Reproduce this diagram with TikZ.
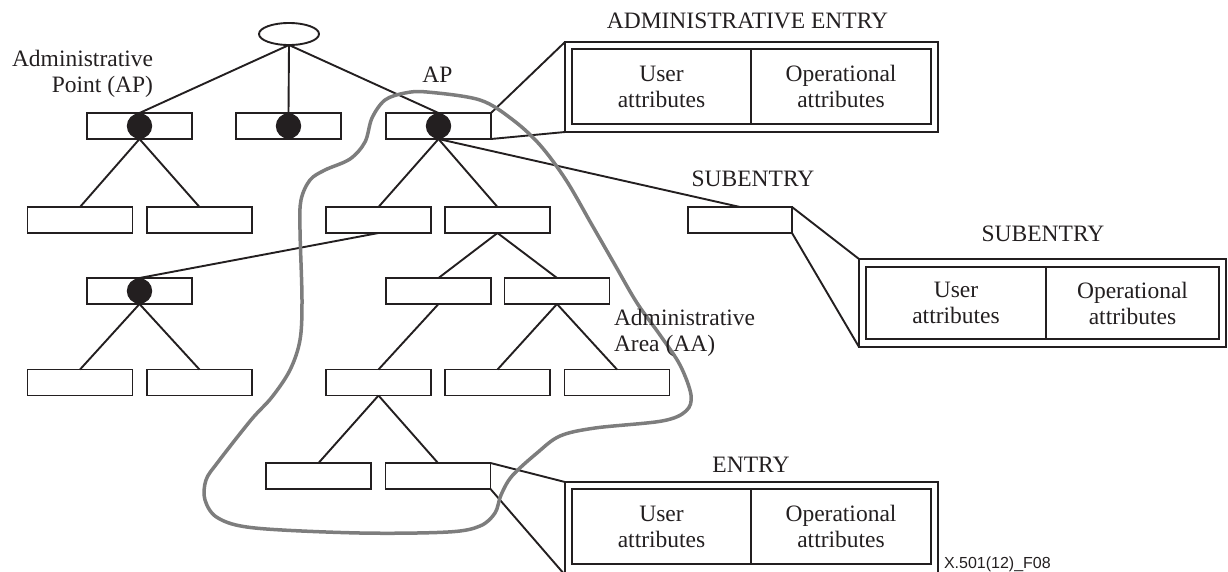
\documentclass[tikz,border=0pt]{standalone}
\usepackage{fontspec}
\setmainfont{Liberation Serif}
\newfontfamily\figsans{Liberation Sans}
\usetikzlibrary{shapes.geometric}
\definecolor{ink}{RGB}{35,31,32}
\definecolor{areagray}{RGB}{125,125,125}

\begin{document}
\begin{tikzpicture}[x=1pt,y=-1pt,
  every node/.style={inner sep=0pt, outer sep=0pt},
  conn/.style={draw=ink, line width=1.9pt},
  entrybox/.style={draw=ink, line width=1.9pt, fill=white, rectangle,
    minimum width=105pt, minimum height=26pt},
  subbox/.style={entrybox, minimum width=104pt},
  apdot/.style={circle, fill=ink, minimum size=25.4pt},
  lbl/.style={font=\fontsize{23.5}{26}\selectfont, text=ink},
  frame/.style={draw=ink, line width=1.9pt, rectangle},
  cell/.style={frame, lbl, align=center},
  area/.style={draw=areagray, line width=3.5pt}
]
\useasboundingbox (0,0) rectangle (1228,571);

% root of the DIT
\node[draw=ink, line width=1.9pt, ellipse, minimum width=60pt, minimum height=22pt] (root) at (289,34) {};

% first level: administrative points
\node[entrybox] (apA) at (139.5,126) {};
\node[entrybox] (apB) at (288.5,126) {};
\node[entrybox] (apC) at (438.5,126) {};
\node[apdot] (dA) at (apA) {};
\node[apdot] (dB) at (apB) {};
\node[apdot] (dC) at (apC) {};

% second level
\node[entrybox] (r2a) at (80,220) {};
\node[entrybox] (r2b) at (199.5,220) {};
\node[entrybox] (r2c) at (378.5,220) {};
\node[entrybox] (r2d) at (497.5,220) {};
\node[subbox] (sub) at (740,220) {};

% third level
\node[entrybox] (r3a) at (139.5,291) {};
\node[apdot] (dD) at (r3a) {};
\node[entrybox] (r3b) at (438.5,291) {};
\node[entrybox] (r3c) at (557,291) {};

% fourth level
\node[entrybox] (r4a) at (80,382.5) {};
\node[entrybox] (r4b) at (199.5,382.5) {};
\node[entrybox] (r4c) at (378.5,382.5) {};
\node[entrybox] (r4d) at (497.5,382.5) {};
\node[entrybox] (r4e) at (617,382.5) {};

% fifth level
\node[entrybox] (r5a) at (318.5,476) {};
\node[entrybox] (r5b) at (438,476) {};

% administrative entry
\node[frame, minimum width=373pt, minimum height=90pt] (AEo) at (751.5,87) {};
\node[cell, minimum width=179pt, minimum height=75pt] (AEl) at (661.5,86.5) {User\\attributes};
\node[cell, minimum width=180pt, minimum height=75pt] (AEr) at (841,86.5) {Operational\\attributes};

% subentry
\node[frame, minimum width=367pt, minimum height=88pt] (SUo) at (1042.5,303) {};
\node[cell, minimum width=180pt, minimum height=72pt] (SUl) at (956,303) {User\\attributes};
\node[cell, minimum width=173pt, minimum height=72pt] (SUr) at (1132.5,303) {Operational\\attributes};

% entry (outer frame runs off the lower edge)
\node[frame, minimum width=373pt, minimum height=93pt] (ENo) at (751.5,528.5) {};
\node[cell, minimum width=179pt, minimum height=75pt] (ENl) at (661.5,526.5) {User\\attributes};
\node[cell, minimum width=180pt, minimum height=75pt] (ENr) at (841,526.5) {Operational\\attributes};

% tree edges
\draw[conn] (root.south) -- (apA.north);
\draw[conn] (root.south) -- (apB.north);
\draw[conn] (root.south) -- (apC.north);
\draw[conn] (apA.south) -- (r2a.north);
\draw[conn] (apA.south) -- (r2b.north);
\draw[conn] (apC.south) -- (r2c.north);
\draw[conn] (apC.south) -- (r2d.north);
\draw[conn] (apC.south) -- (sub.north);
\draw[conn] (r2c.south) -- (r3a.north);
\draw[conn] (r2d.south) -- (r3b.north);
\draw[conn] (r2d.south) -- (r3c.north);
\draw[conn] (r3a.south) -- (r4a.north);
\draw[conn] (r3a.south) -- (r4b.north);
\draw[conn] (r3b.south) -- (r4c.north);
\draw[conn] (r3c.south) -- (r4d.north);
\draw[conn] (r3c.south) -- (r4e.north);
\draw[conn] (r4c.south) -- (r5a.north);
\draw[conn] (r4c.south) -- (r5b.north);

% zoom-out lines to the expanded entries
\draw[conn] (apC.north east) -- (AEo.north west);
\draw[conn] (apC.south east) -- (AEo.south west);
\draw[conn] (sub.north east) -- (SUo.north west);
\draw[conn] (sub.south east) -- (SUo.south west);
\draw[conn] (r5b.north east) -- (ENo.north west);
\draw[conn] (r5b.south east) -- (ENo.south west);

% administrative area outline
\draw[area] plot[smooth cycle, tension=0.55] coordinates {
  (427,92) (480,100) (513,120) (540,145) (566,180) (592,225) (615,265)
  (637,303) (660,335) (680,365) (691,395) (686,411) (662,421) (595,428)
  (560,436) (537,453) (512,476) (501,495) (495,513) (480,526) (448,532)
  (360,533) (255,528) (218,518) (205,500) (206,480) (218,462) (251,420)
  (272,397) (290,370) (300,340) (302,300) (300,230) (301,200) (310,180)
  (325,170) (350,159) (365,142) (372,118) (385,100) (405,93)};

% labels
\node[lbl, align=right, anchor=east] (lblAP) at (153,73.5) {Administrative\\Point (AP)};
\node[lbl, anchor=base] (lblAP2) at (437.5,82) {AP};
\node[lbl, anchor=base] (lblAE) at (747.5,28) {ADMINISTRATIVE ENTRY};
\node[lbl, anchor=base] (lblSub1) at (753,186) {SUBENTRY};
\node[lbl, anchor=base] (lblSub2) at (1043,241) {SUBENTRY};
\node[lbl, anchor=base] (lblEnt) at (751,472) {ENTRY};
\node[lbl, align=left, anchor=west] (lblAA) at (614,333) {Administrative\\Area (AA)};
\node[font=\figsans\fontsize{16}{18}\selectfont, text=ink, anchor=base west] (figid) at (944,568) {X.501(12)\_F08};
\end{tikzpicture}
\end{document}
